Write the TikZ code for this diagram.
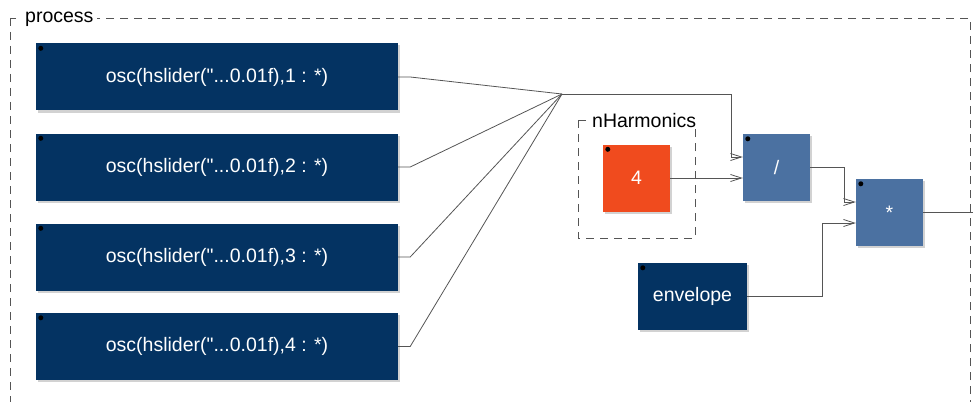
\documentclass[tikz,border=0pt]{standalone}
\usepackage{fontspec}
\setmainfont{Liberation Sans}
\usetikzlibrary{arrows.meta,shadows}

\definecolor{userblue}{HTML}{043362}
\definecolor{normblue}{HTML}{4B71A1}
\definecolor{numorange}{HTML}{F04B1E}
\definecolor{linkgray}{HTML}{555555}

\tikzset{
  blk/.style={draw=none, inner sep=0pt, minimum height=67pt, text=white,
    font=\fontsize{19.5}{23}\selectfont,
    drop shadow={shadow xshift=2pt, shadow yshift=-2pt, fill=black!35, opacity=.5}},
  usr/.style={blk, fill=userblue},
  prim/.style={blk, fill=normblue, minimum width=67pt},
  num/.style={blk, fill=numorange, minimum width=67pt},
  frame/.style={draw=linkgray, line width=0.8pt, dash pattern=on 8pt off 6pt},
  lbl/.style={fill=white, inner xsep=4pt, inner ysep=1pt, font=\fontsize{19.5}{23}\selectfont},
  wire/.style={draw=linkgray, line width=0.8pt},
  arr/.style={wire, -{Straight Barb[length=11pt,width=7pt]}}
}

\begin{document}
\begin{tikzpicture}[x=1pt,y=-1pt]
\clip (0,0) rectangle (973,401);

% outer group
\draw[frame] (10,18) rectangle (970,440);
\node[lbl, anchor=west] (proc) at (21,19) {process};

% oscillators
\foreach \i/\y in {1/77,2/167,3/257,4/346.5}
  \node[usr, minimum width=362pt] (osc\i) at (217,\y) {osc(hslider(\textquotedbl...0.01f),\i{} : *)};

% nHarmonics group
\draw[frame] (578,120) rectangle (695,238);
\node[lbl, anchor=west] (nharm) at (588,121) {nHarmonics};
\node[num] (four) at (636.5,178) {4};

\node[prim] (div) at (776.5,167.5) {/};
\node[prim] (mul) at (889.5,212.5) {*};
\node[usr, minimum width=109pt] (env) at (692.5,296.5) {envelope};

% corner dots
\foreach \b in {osc1,osc2,osc3,osc4,four,div,mul,env}
  \fill ([shift={(5,5)}]\b.north west) circle (2.5);

% links
\coordinate (m) at (562,94);
\coordinate (out) at (990,212.5);
\foreach \i in {1,...,4}
  \draw[wire] (osc\i.east) -- ++(12,0) -- (m);
\draw[arr] (m) -| ([xshift=-11pt,yshift=10.5pt]div.west) -- ([yshift=10.5pt]div.west);
\draw[arr] (four.east) -- ([yshift=-10.5pt]div.west);
\draw[arr] (div.east) -- ++(34,0) |- ([yshift=10.5pt]mul.west);
\draw[arr] (env.east) -- ++(75,0) |- ([yshift=-10.5pt]mul.west);
\draw[wire] (mul.east) -- (out);
\end{tikzpicture}
\end{document}
